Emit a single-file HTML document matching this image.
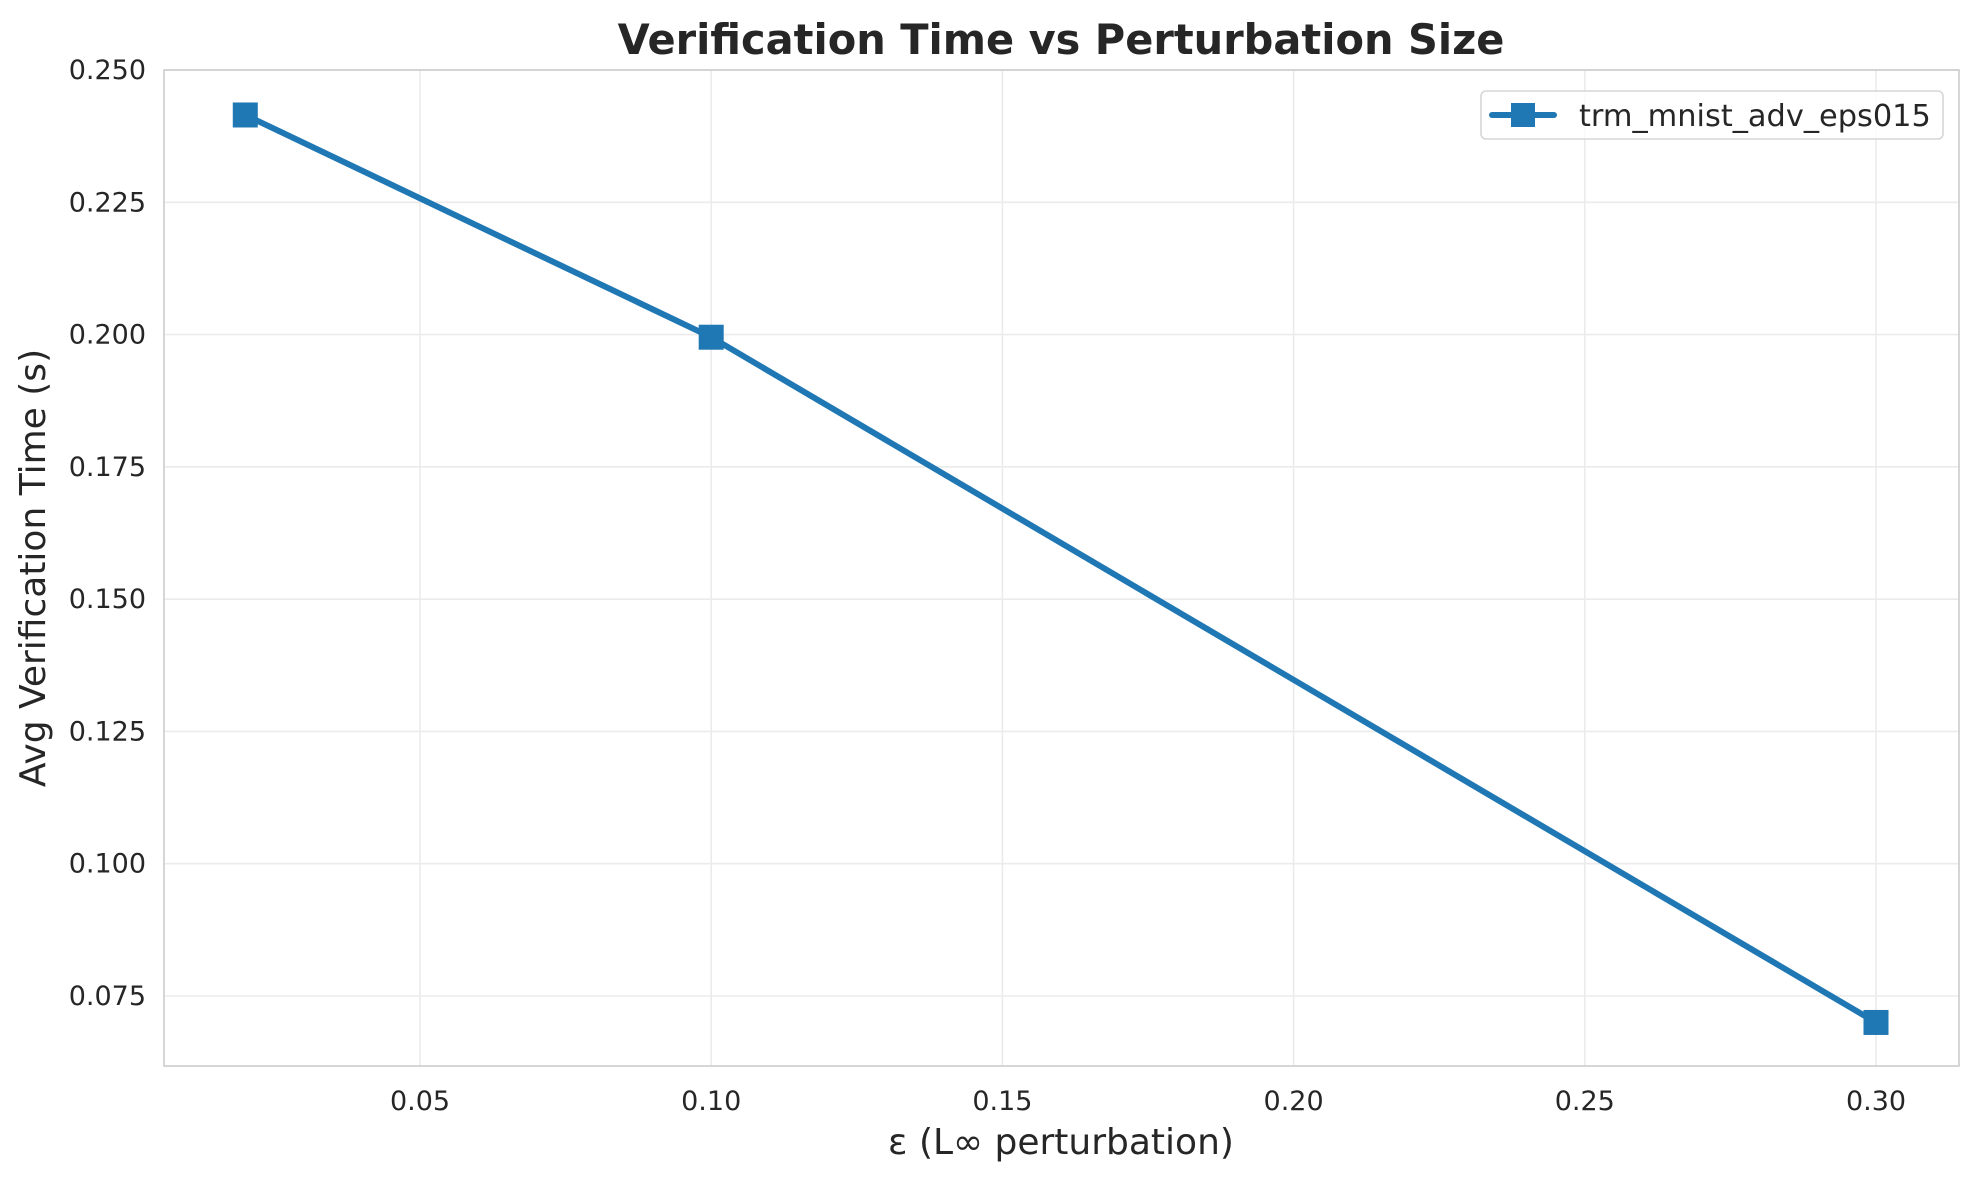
<!DOCTYPE html>
<html><head><meta charset="utf-8"><style>
body{margin:0;background:#fff}
svg text{font-family:"DejaVu Sans","Liberation Sans",sans-serif;fill:#262626}
</style></head><body>
<svg id="chart" width="1978" height="1179" viewBox="0 0 1978 1179" xmlns="http://www.w3.org/2000/svg">
<rect x="0" y="0" width="1978" height="1179" fill="#fff"/>
<g id="grid"></g>
<rect x="164" y="70" width="1795" height="996" fill="none" stroke="#cccccc" stroke-width="1.6"/>
<g id="ticks"></g>
<g id="series"></g>
<text x="1061" y="54" text-anchor="middle" font-size="41.5" font-weight="bold">Verification Time vs Perturbation Size</text>
<text x="1061" y="1154" text-anchor="middle" font-size="36">ε (L∞ perturbation)</text>
<text transform="translate(45,568) rotate(-90)" text-anchor="middle" font-size="36">Avg Verification Time (s)</text>
<g>
<rect x="1481" y="91" width="462" height="48" rx="5" fill="#fff" fill-opacity="0.8" stroke="#d6d6d6" stroke-width="1.6"/>
<line x1="1492" y1="115" x2="1554" y2="115" stroke="#1f77b4" stroke-width="6" stroke-linecap="round"/>
<rect x="1511" y="103" width="24" height="24" fill="#1f77b4"/>
<text x="1579" y="126" font-size="30.4">trm_mnist_adv_eps015</text>
</g>
</svg>
<script>
const xValues = [0.02, 0.10, 0.30];
const yValues = [0.2415, 0.1995, 0.070];
const xTicks = [0.05, 0.10, 0.15, 0.20, 0.25, 0.30];
const xTickLabels = ["0.05","0.10","0.15","0.20","0.25","0.30"];
const yTicks = [0.075, 0.100, 0.125, 0.150, 0.175, 0.200, 0.225, 0.250];
const yTickLabels = ["0.075","0.100","0.125","0.150","0.175","0.200","0.225","0.250"];

const NS = "http://www.w3.org/2000/svg";
const X = v => 420 + (v - 0.05) * (1456 / 0.25);
const Y = v => 70 + (0.25 - v) * (926 / 0.175);
const grid = document.getElementById('grid');
const ticks = document.getElementById('ticks');
const series = document.getElementById('series');
function mk(tag, attrs, parent){const e=document.createElementNS(NS,tag);for(const k in attrs)e.setAttribute(k,attrs[k]);parent.appendChild(e);return e;}
xTicks.forEach((t,i)=>{
  const l=mk('line',{x1:X(t),x2:X(t),y1:70,y2:1066,stroke:'#ebebeb','stroke-width':1.6},grid);
  
  
  const tx=mk('text',{x:X(t),y:1110,'text-anchor':'middle','font-size':27},ticks);
  
  
  tx.textContent=xTickLabels[i];
});
yTicks.forEach((t,i)=>{
  const l=mk('line',{x1:164,x2:1959,y1:Y(t),y2:Y(t),stroke:'#ebebeb','stroke-width':1.6},grid);
  
  
  const tx=mk('text',{x:146,y:Y(t)+9,'text-anchor':'end','font-size':27},ticks);
  
  
  tx.textContent=yTickLabels[i];
});
const pts=xValues.map((x,i)=>X(x)+','+Y(yValues[i])).join(' ');
const pl=mk('polyline',{points:pts,fill:'none',stroke:'#1f77b4','stroke-width':6,'stroke-linejoin':'round','stroke-linecap':'round'},series);


xValues.forEach((x,i)=>{
  const r=mk('rect',{x:X(x)-12.5,y:Y(yValues[i])-12.5,width:25,height:25,fill:'#1f77b4'},series);
  
  
});
</script>
</body></html>
